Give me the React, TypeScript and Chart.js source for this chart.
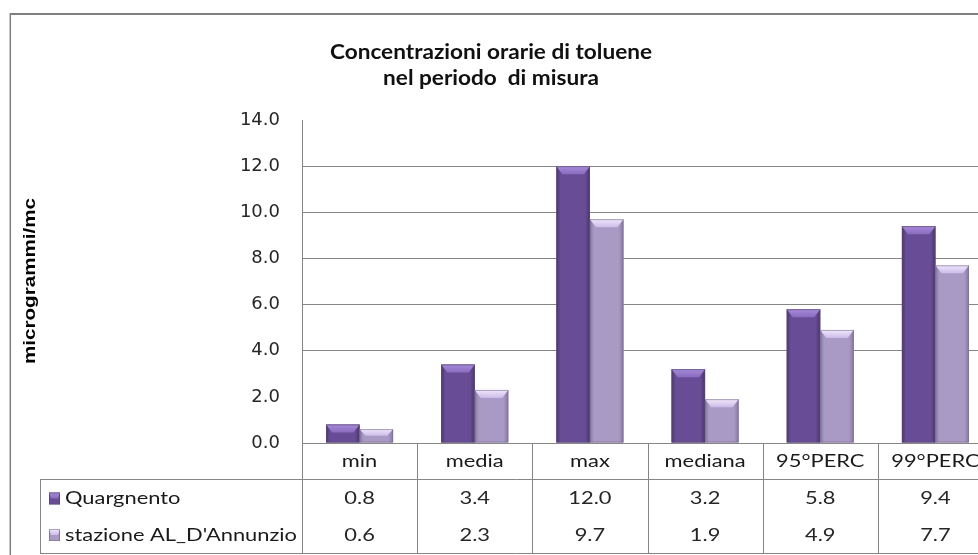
import React, { useEffect, useRef } from 'react';
import { Chart, registerables } from 'chart.js';

Chart.register(...registerables);

const categories = ['min', 'media', 'max', 'mediana', '95°PERC', '99°PERC'];
const quargnento = [0.8, 3.4, 12.0, 3.2, 5.8, 9.4];
const dannunzio = [0.6, 2.3, 9.7, 1.9, 4.9, 7.7];
const seriesNames = ['Quargnento', "stazione AL_D'Annunzio"];
const titleLines = ['Concentrazioni orarie di toluene', 'nel periodo  di misura'];
const yTitle = 'microgrammi/mc';
const yMin = 0;
const yMax = 14;
const yStep = 2;
const hiddenGridValues = [2, 14];

const GRID = '#868686';
const palettes = [
  { base: '#684d96', edge: '#4a346f', top: '#a88ad9', topInner: '#8a6cc0', line: 'rgba(90,80,110,0.55)' },
  { base: '#a899c5', edge: '#8677a3', top: '#f1e8fc', topInner: '#cbbbe8', line: 'rgba(120,110,140,0.55)' },
];

function fillBar(ctx: CanvasRenderingContext2D, left: number, right: number, top: number, bottom: number, p: any) {
  const w = right - left;
  const h = bottom - top;
  if (h <= 0) return;
  const g = ctx.createLinearGradient(left, 0, right, 0);
  g.addColorStop(0, p.edge);
  g.addColorStop(0.12, p.base);
  g.addColorStop(0.5, p.base);
  g.addColorStop(0.86, p.base);
  g.addColorStop(1, p.edge);
  ctx.fillStyle = g;
  ctx.fillRect(left, top, w, h);
  const bh = Math.min(8, h / 2);
  const inset = Math.min(w * 0.18, 6);
  const tg = ctx.createLinearGradient(0, top, 0, top + bh);
  tg.addColorStop(0, p.top);
  tg.addColorStop(1, p.topInner);
  ctx.fillStyle = tg;
  ctx.beginPath();
  ctx.moveTo(left, top);
  ctx.lineTo(right, top);
  ctx.lineTo(right - inset, top + bh);
  ctx.lineTo(left + inset, top + bh);
  ctx.closePath();
  ctx.fill();
  ctx.strokeStyle = p.line;
  ctx.lineWidth = 1;
  ctx.strokeRect(left + 0.5, top + 0.5, w - 1, h - 1);
}

function drawText(ctx: CanvasRenderingContext2D, text: string, x: number, y: number, font: string, align: CanvasTextAlign, sx: number, color: string) {
  ctx.save();
  ctx.font = font;
  ctx.fillStyle = color;
  ctx.textAlign = align;
  ctx.textBaseline = 'middle';
  ctx.translate(x, y);
  ctx.scale(sx, 1);
  ctx.fillText(text, 0, 0);
  ctx.restore();
}

const decorPlugin = {
  id: 'decor',
  beforeDraw(chart: any) {
    const ctx = chart.ctx as CanvasRenderingContext2D;
    ctx.save();
    ctx.strokeStyle = '#7f7f7f';
    ctx.lineWidth = 2;
    ctx.beginPath();
    ctx.moveTo(10, 14);
    ctx.lineTo(chart.width, 14);
    ctx.stroke();
    ctx.lineWidth = 1.5;
    ctx.beginPath();
    ctx.moveTo(10.3, 13);
    ctx.lineTo(10.3, chart.height);
    ctx.stroke();
    ctx.restore();
  },
  afterDatasetsDraw(chart: any) {
    const ctx = chart.ctx as CanvasRenderingContext2D;
    ctx.save();
    chart.data.datasets.forEach((_: any, d: number) => {
      const meta = chart.getDatasetMeta(d);
      meta.data.forEach((el: any) => {
        const { x, y, base, width } = el.getProps(['x', 'y', 'base', 'width'], true);
        fillBar(ctx, x - width / 2, x + width / 2, y, base, palettes[d]);
      });
    });
    ctx.restore();
  },
  afterDraw(chart: any) {
    const ctx = chart.ctx as CanvasRenderingContext2D;
    const area = chart.chartArea;
    const xs = chart.scales.x;
    const n = categories.length;
    const cw = (area.right - area.left) / n;
    const tableLeft = 40;
    const catTop = area.bottom;
    const catBottom = area.bottom + 36;
    const tableBottom = 553;
    const rowY = [498.5, 535];
    const catY = 461.5;

    ctx.save();
    ctx.strokeStyle = GRID;
    ctx.lineWidth = 1;
    ctx.beginPath();
    for (let i = 0; i <= n; i++) {
      const x = Math.round(area.left + i * cw) + 0.5;
      ctx.moveTo(x, catTop);
      ctx.lineTo(x, tableBottom);
    }
    ctx.moveTo(tableLeft, catBottom + 0.5);
    ctx.lineTo(area.right, catBottom + 0.5);
    ctx.moveTo(tableLeft, tableBottom + 0.5);
    ctx.lineTo(area.right, tableBottom + 0.5);
    ctx.moveTo(tableLeft + 0.5, catBottom);
    ctx.lineTo(tableLeft + 0.5, tableBottom);
    ctx.stroke();
    ctx.restore();

    // table text
    const tFont = '18px Lato';
    ctx.save();
    ctx.font = tFont;
    const refW = ctx.measureText(seriesNames[1]).width;
    ctx.restore();
    const tsx = refW > 0 ? 232 / refW : 1;

    categories.forEach((c, i) => {
      const cx = xs.getPixelForValue(i);
      drawText(ctx, c, cx, catY, tFont, 'center', tsx, '#1a1a1a');
      drawText(ctx, quargnento[i].toFixed(1), cx, rowY[0], tFont, 'center', tsx, '#262626');
      drawText(ctx, dannunzio[i].toFixed(1), cx, rowY[1], tFont, 'center', tsx, '#262626');
    });
    seriesNames.forEach((s, d) => {
      const cy = rowY[d];
      fillBar(ctx, 49, 60, cy - 6, cy + 6, palettes[d]);
      drawText(ctx, s, 65, cy, tFont, 'left', tsx, '#1a1a1a');
    });

    // title
    const titleFont = 'bold 21px Lato';
    ctx.save();
    ctx.font = titleFont;
    const tw = ctx.measureText(titleLines[0]).width;
    ctx.restore();
    const ssx = tw > 0 ? 322 / tw : 1;
    drawText(ctx, titleLines[0], 491, 52, titleFont, 'center', ssx, '#111');
    drawText(ctx, titleLines[1], 491, 78, titleFont, 'center', ssx, '#111');

    // y axis title
    const yFont = 'bold 17px "Liberation Sans", Arial, sans-serif';
    ctx.save();
    ctx.font = yFont;
    const yw = ctx.measureText(yTitle).width;
    ctx.restore();
    const ysx = yw > 0 ? 166 / yw : 1;
    ctx.save();
    ctx.translate(30, 281);
    ctx.rotate(-Math.PI / 2);
    drawText(ctx, yTitle, 0, 0, yFont, 'center', ysx, '#000');
    ctx.restore();
  },
};

export default function App() {
  const ref = useRef<HTMLCanvasElement | null>(null);
  useEffect(() => {
    if (!ref.current) return;
    const chart = new Chart(ref.current, {
      type: 'bar',
      data: {
        labels: categories,
        datasets: [
          { label: seriesNames[0], data: quargnento, backgroundColor: palettes[0].base, borderWidth: 0, categoryPercentage: 0.582, barPercentage: 1 },
          { label: seriesNames[1], data: dannunzio, backgroundColor: palettes[1].base, borderWidth: 0, categoryPercentage: 0.582, barPercentage: 1 },
        ],
      },
      options: {
        responsive: false,
        animation: false,
        devicePixelRatio: 1,
        layout: { padding: { left: 0, right: 7, top: 120, bottom: 112 } },
        plugins: {
          legend: { display: false },
          title: { display: false },
          tooltip: { enabled: false },
        },
        scales: {
          x: { display: false },
          y: {
            min: yMin,
            max: yMax,
            afterFit: (scale: any) => { scale.width = 302; },
            ticks: {
              stepSize: yStep,
              padding: 22,
              color: '#262626',
              font: { family: '"DejaVu Sans"', size: 18 },
              callback: (v: any) => Number(v).toFixed(1),
            },
            grid: {
              drawTicks: false,
              color: (ctx: any) => (hiddenGridValues.includes(ctx.tick?.value) ? 'rgba(0,0,0,0)' : GRID),
            },
            border: { display: true, color: GRID },
          },
        },
      },
      plugins: [decorPlugin],
    } as any);
    return () => chart.destroy();
  }, []);
  return (
    <div style={{ position: 'fixed', left: 0, top: 0, width: 978, height: 555, overflow: 'hidden', background: '#fff' }}>
      <canvas ref={ref} width={1000} height={555} style={{ width: 1000, height: 555, display: 'block' }} />
    </div>
  );
}
